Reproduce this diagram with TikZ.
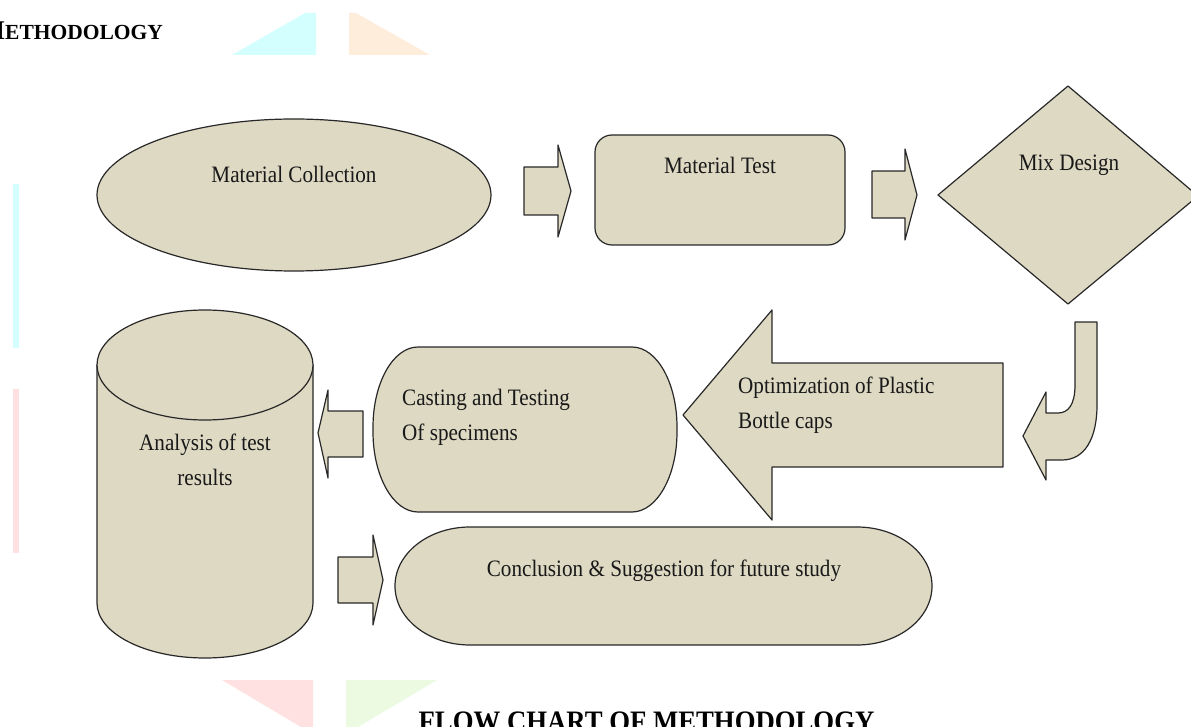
\documentclass[tikz,border=0pt]{standalone}
\usepackage{fontspec}
\setmainfont{Liberation Serif}
\newfontfamily\lab[FakeStretch=0.9]{Liberation Serif}
\newfontfamily\capfont[FakeStretch=0.9]{Liberation Serif}
\definecolor{fillc}{RGB}{221,217,195}
\definecolor{linec}{RGB}{40,40,40}
\definecolor{txtc}{RGB}{25,25,25}
\definecolor{wcyan}{RGB}{212,255,255}
\definecolor{worange}{RGB}{255,237,220}
\definecolor{wpink}{RGB}{255,225,225}
\definecolor{wgreen}{RGB}{236,250,226}
\tikzset{
  shapebox/.style={fill=fillc, draw=linec, line width=1.2pt, line join=round},
  lbl/.style={font=\lab\fontsize{23.5}{28}\selectfont, text=txtc, inner sep=0pt},
  wmark/.style={draw=none}
}
\begin{document}
\begin{tikzpicture}[x=1pt,y=-1pt]
\useasboundingbox[fill=white] (0,0) rectangle (1191,727);

% faint watermark pieces
\fill[wcyan] (232,55) -- (305,13) -- (316,13) -- (316,55) -- cycle;
\fill[worange] (349,13) -- (356,13) -- (430,55) -- (349,55) -- cycle;
\fill[wpink] (222,680) -- (313,680) -- (313,727) -- (301,727) -- cycle;
\fill[wgreen] (346,680) -- (437,680) -- (358,727) -- (346,727) -- cycle;
\fill[wcyan] (13,184) rectangle (19,348);
\fill[wpink] (13,389) rectangle (19,553);

% header
\node[anchor=base west, inner sep=0pt, text=black] (head) at (-20.5,40)
  {\bfseries{\fontsize{27}{27}\selectfont M}{\fontsize{21.5}{21.5}\selectfont ETHODOLOGY}};

% Material Collection (ellipse)
\path[shapebox] (294,195) ellipse [x radius=197, y radius=76];
\node[lbl, anchor=base] (collect) at (294,183) {Material Collection};

% arrow 1
\path[shapebox] (524,167) -- (558,167) -- (558,145) -- (571,191) -- (558,237) -- (558,215) -- (524,215) -- cycle;

% Material Test
\path[shapebox, rounded corners=17] (595,135) rectangle (845,245);
\node[lbl, anchor=base] (mtest) at (720,174) {Material Test};

% arrow 2
\path[shapebox] (872,171) -- (905,171) -- (905,149) -- (917,195) -- (905,240) -- (905,218) -- (872,218) -- cycle;

% Mix Design diamond
\path[shapebox] (1068,86) -- (1198,196) -- (1068,304) -- (938,195) -- cycle;
\node[lbl, anchor=base] (mix) at (1069,171) {Mix Design};

% U-turn arrow
\path[shapebox] (1075,322) -- (1097,322) -- (1097,405)
  .. controls (1097,438) and (1085,460) .. (1062,460)
  -- (1046,460) -- (1046,480) -- (1023,436) -- (1046,392) -- (1046,413)
  -- (1058,413) .. controls (1068,413) and (1075,405) .. (1075,385) -- cycle;

% Optimization big left arrow
\path[shapebox] (683,415) -- (772,310) -- (772,363) -- (1003,363) -- (1003,467) -- (772,467) -- (772,520) -- cycle;
\node[lbl, anchor=base west] (optA) at (738,393) {Optimization of Plastic};
\node[lbl, anchor=base west] (optB) at (738,428) {Bottle caps};

% Casting and Testing
\path[shapebox] (418,347) -- (632,347) .. controls (656.8,347) and (677,382.8) .. (677,427)
  -- (677,432) .. controls (677,476.2) and (656.8,512) .. (632,512)
  -- (418,512) .. controls (393.2,512) and (373,476.2) .. (373,432)
  -- (373,427) .. controls (373,382.8) and (393.2,347) .. (418,347) -- cycle;
\node[lbl, anchor=base west] (castA) at (402,405) {Casting and Testing};
\node[lbl, anchor=base west] (castB) at (402,440) {Of specimens};

% small left arrow
\path[shapebox] (363,411) -- (328,411) -- (328,390) -- (318,433) -- (328,478) -- (328,457) -- (363,457) -- cycle;

% Cylinder
\path[shapebox] (97,365) -- (97,603) .. controls (97,633.4) and (145.4,658) .. (205,658)
  .. controls (264.6,658) and (313,633.4) .. (313,603) -- (313,365) -- cycle;
\path[shapebox] (205,365) ellipse [x radius=108, y radius=55];
\node[lbl, anchor=base] (anaA) at (205,450) {Analysis of test};
\node[lbl, anchor=base] (anaB) at (205,485) {results};

% small right arrow
\path[shapebox] (338,557) -- (373,557) -- (373,535) -- (383,580) -- (373,625) -- (373,603) -- (338,603) -- cycle;

% Conclusion stadium
\path[shapebox] (470,527) -- (857,527) .. controls (898.4,527) and (932,553.4) .. (932,586)
  .. controls (932,618.6) and (898.4,645) .. (857,645)
  -- (470,645) .. controls (428.6,645) and (395,618.6) .. (395,586)
  .. controls (395,553.4) and (428.6,527) .. (470,527) -- cycle;
\node[lbl, anchor=base] (concl) at (664,576) {Conclusion \& Suggestion for future study};

% caption
\node[anchor=base, inner sep=0pt, text=black] (caption) at (646.5,731)
  {\capfont\bfseries\fontsize{29.7}{30}\selectfont FLOW CHART OF METHODOLOGY};
\end{tikzpicture}
\end{document}
